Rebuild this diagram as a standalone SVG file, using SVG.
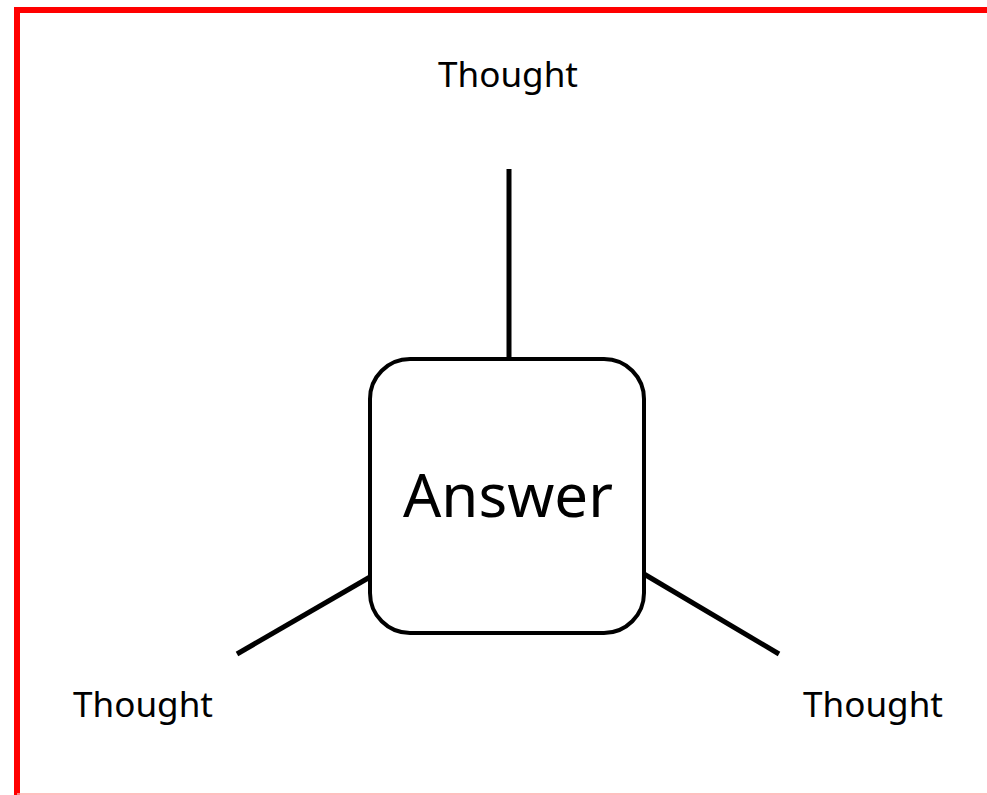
<svg xmlns="http://www.w3.org/2000/svg" width="987" height="795" viewBox="0 0 987 795">
<style>
.lbl{font-family:"Noto Sans","Open Sans",sans-serif;font-size:34px;fill:#000}
.conn{stroke:#000;stroke-width:5;fill:none}
</style>
<rect width="987" height="795" fill="#fff"/>
<g id="frame">
<line x1="14" y1="10" x2="987" y2="10" stroke="#ff0000" stroke-width="6"/>
<line x1="17" y1="7" x2="17" y2="795" stroke="#ff0000" stroke-width="6"/>
<line x1="17" y1="794" x2="987" y2="794" stroke="#ffaaaa" stroke-width="1.5"/>
</g>
<g id="connectors">
<line class="conn" x1="509" y1="169" x2="509" y2="359"/>
<line class="conn" x1="237" y1="654" x2="370" y2="577"/>
<line class="conn" x1="644" y1="574" x2="779" y2="654"/>
</g>
<g id="answer">
<rect x="370" y="359" width="274" height="274" rx="40" ry="40" fill="#fff" stroke="#000" stroke-width="4"/>
<text x="508" y="517" text-anchor="middle" font-family="'Noto Sans','Open Sans',sans-serif" font-size="60">Answer</text>
</g>
<g id="thought-top">
<text class="lbl" x="438" y="87" textLength="140" lengthAdjust="spacingAndGlyphs">Thought</text>
</g>
<g id="thought-left">
<text class="lbl" x="73" y="717" textLength="140" lengthAdjust="spacingAndGlyphs">Thought</text>
</g>
<g id="thought-right">
<text class="lbl" x="803" y="717" textLength="140" lengthAdjust="spacingAndGlyphs">Thought</text>
</g>
</svg>
